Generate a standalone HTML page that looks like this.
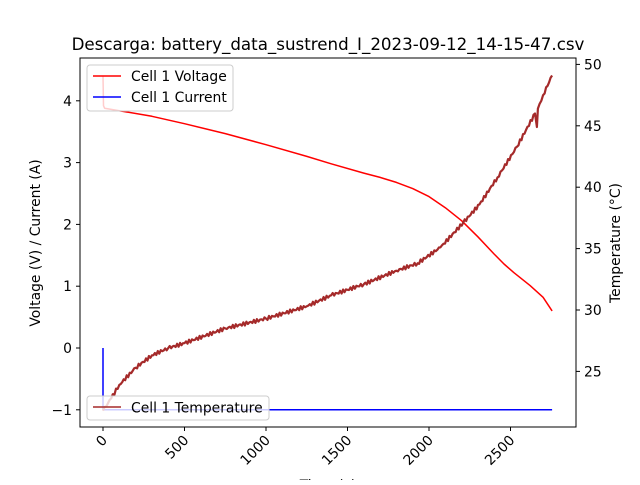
<!DOCTYPE html>
<html><head><meta charset="utf-8"><style>
body{margin:0;background:#fff;}
svg{font-family:"DejaVu Sans","Liberation Sans",sans-serif;}
</style></head><body>
<svg id="c" width="640" height="480">
<rect width="640" height="480" fill="#fff"/>
<text x="328" y="50" font-size="16.7" text-anchor="middle">Descarga: battery_data_sustrend_I_2023-09-12_14-15-47.csv</text>
<g id="plot"></g>
<rect x="80" y="58" width="496" height="369" fill="none" stroke="#000" stroke-width="1"/>
<g id="axes"></g>
<text transform="translate(40,243) rotate(-90)" font-size="13.9" text-anchor="middle">Voltage (V) / Current (A)</text>
<text transform="translate(620,243) rotate(-90)" font-size="13.9" text-anchor="middle">Temperature (°C)</text>
<text x="328" y="490" font-size="13.9" text-anchor="middle">Time (s)</text>
<g>
<rect x="87" y="65" width="146" height="46" rx="3" fill="#fff" fill-opacity="0.8" stroke="#ccc"/>
<line x1="93" y1="76" x2="121" y2="76" stroke="red" stroke-width="1.5"/>
<text x="131" y="81" font-size="13.9">Cell 1 Voltage</text>
<line x1="93" y1="97" x2="121" y2="97" stroke="blue" stroke-width="1.5"/>
<text x="131" y="102" font-size="13.9">Cell 1 Current</text>
</g>
<g>
<rect x="87" y="396" width="182" height="24" rx="3" fill="#fff" fill-opacity="0.8" stroke="#ccc"/>
<line x1="93" y1="407" x2="121" y2="407" stroke="#a52a2a" stroke-width="1.5"/>
<text x="131" y="412.5" font-size="13.9">Cell 1 Temperature</text>
</g>
</svg>
<script>
const timeV=[0,3,10,100,300,500,750,1000,1250,1400,1600,1700,1800,1900,2000,2100,2200,2300,2400,2460,2520,2620,2700,2755];
const voltage=[4.4,3.92,3.88,3.84,3.75,3.63,3.47,3.29,3.10,2.98,2.83,2.76,2.68,2.58,2.45,2.27,2.06,1.80,1.52,1.36,1.22,1.01,0.82,0.6];
const timeI=[0,0,2755];
const current=[0,-1,-1];
const timeT=[0,50,100,200,300,400,500,750,1000,1250,1400,1600,1800,1930,2070,2210,2310,2420,2540,2650,2662,2668,2700,2755];
const temperature=[21.8,22.8,23.9,25.3,26.3,26.9,27.3,28.5,29.3,30.3,31.2,32.1,33.2,33.8,35.1,37.1,38.6,40.8,43.3,46.0,44.9,46.4,47.5,49.1];
const xTicks=[0,500,1000,1500,2000,2500];
const yTicks=[-1,0,1,2,3,4];
const y2Ticks=[25,30,35,40,45,50];
const NS="http://www.w3.org/2000/svg";
const X=t=>103+t*(81.5/500);
const Y=v=>348-v*61.8;
const Y2=v=>310-(v-30)*12.28;
const plot=document.getElementById('plot'),axes=document.getElementById('axes');
function path(xs,ys,fy,col,w,name,jit){
 let d='';
 for(let i=0;i<xs.length;i++){
  if(i===0){d+='M'+X(xs[0]).toFixed(1)+','+fy(ys[0]).toFixed(1);continue;}
  const x0=X(xs[i-1]),x1=X(xs[i]),y0=fy(ys[i-1]),y1=fy(ys[i]);
  const n=jit?Math.max(1,Math.round((x1-x0)/1.5)):1;
  for(let k=1;k<=n;k++){const f=k/n;let yy=y0+(y1-y0)*f;if(jit&&k<n)yy+=jit*Math.sin(k*2.7+i*1.3);d+='L'+(x0+(x1-x0)*f).toFixed(1)+','+yy.toFixed(1);}
 }
 const p=document.createElementNS(NS,'path');
 p.setAttribute('d',d);
 p.setAttribute('fill','none');p.setAttribute('stroke',col);p.setAttribute('stroke-width',w);
 p.setAttribute('stroke-linejoin','round');
 
 
 plot.appendChild(p);
}
path(timeV,voltage,Y,'red',1.5,'voltage-line',0);
path(timeI,current,Y,'blue',1.5,'current-line',0);
path(timeT,temperature,Y2,'#a52a2a',2.2,'temperature-line',1.8);
function tick(x1,y1,x2,y2){const l=document.createElementNS(NS,'line');l.setAttribute('x1',x1);l.setAttribute('y1',y1);l.setAttribute('x2',x2);l.setAttribute('y2',y2);l.setAttribute('stroke','#000');axes.appendChild(l);}
function txt(x,y,s,anchor,rot){const t=document.createElementNS(NS,'text');t.setAttribute('x',x);t.setAttribute('y',y);t.setAttribute('font-size','13.9');t.setAttribute('text-anchor',anchor);if(rot)t.setAttribute('transform',rot);t.textContent=s;


axes.appendChild(t);}
xTicks.forEach(v=>{const x=X(v);tick(x,427,x,431);txt(x+5,441,String(v),'end','rotate(-45 '+(x+5)+' 441)');});
yTicks.forEach(v=>{const y=Y(v);tick(76,y,80,y);txt(72,y+5,v<0?'\u22121':String(v),'end');});
y2Ticks.forEach(v=>{const y=Y2(v);tick(576,y,580,y);txt(584,y+5,String(v),'start');});
</script>
</body></html>
